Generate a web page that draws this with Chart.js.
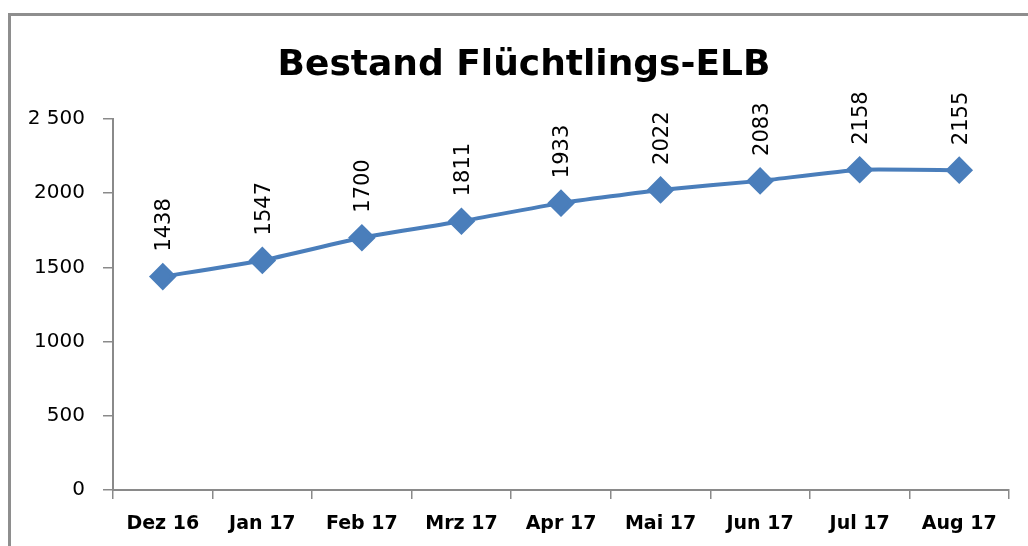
<!DOCTYPE html>
<html>
<head>
<meta charset="utf-8">
<script src="https://cdn.jsdelivr.net/npm/chart.js@4"></script>
<style>
  html, body { margin: 0; padding: 0; background: #fff; overflow: hidden; }
  #wrap { position: relative; width: 1028px; height: 546px; }
  #frame {
    position: absolute; left: 8px; top: 13px; width: 1100px; height: 600px;
    border-top: 3px solid #8e8e8e; border-left: 3px solid #8e8e8e;
  }
  #chart { position: absolute; left: 0; top: 0; }
</style>
</head>
<body>
<div id="wrap">
  <div id="frame"></div>
  <canvas id="chart" width="1028" height="546"></canvas>
</div>
<script>
// Daten
const chartTitle = 'Bestand Flüchtlings-ELB';
const months = ['Dez 16', 'Jan 17', 'Feb 17', 'Mrz 17', 'Apr 17', 'Mai 17', 'Jun 17', 'Jul 17', 'Aug 17'];
const bestand = [1438, 1547, 1700, 1811, 1933, 2022, 2083, 2158, 2155];
const yTicks = [0, 500, 1000, 1500, 2000, 2500];
const yTickLabels = ['0', '500', '1000', '1500', '2000', '2 500'];

const lineColor = '#4a7ebb';
const axisColor = '#8a8a8a';

// Titel (leicht nach rechts versetzt wie im Original)
const titlePlugin = {
    id: 'titlePlugin',
    afterDraw(chart) {
        const ctx = chart.ctx;
        ctx.save();
        ctx.fillStyle = '#000';
        ctx.font = 'bold 36px "DejaVu Sans"';
        ctx.textAlign = 'center';
        ctx.textBaseline = 'alphabetic';
        ctx.fillText(chartTitle, 524, 75);
        ctx.restore();
    }
};

// Werte über den Punkten, um 90° gedreht
const valueLabels = {
    id: 'valueLabels',
    afterDatasetsDraw(chart) {
        const ctx = chart.ctx;
        const meta = chart.getDatasetMeta(0);
        ctx.save();
        ctx.fillStyle = '#000';
        ctx.font = '21px "DejaVu Sans"';
        ctx.textAlign = 'left';
        ctx.textBaseline = 'middle';
        meta.data.forEach((pt, i) => {
            ctx.save();
            ctx.translate(pt.x + 2, pt.y - 25);
            ctx.rotate(-Math.PI / 2);
            ctx.fillText(String(bestand[i]), 0, 0);
            ctx.restore();
        });
        ctx.restore();
    }
};

new Chart(document.getElementById('chart'), {
    type: 'line',
    data: {
        labels: months,
        datasets: [{
            data: bestand,
            borderColor: lineColor,
            backgroundColor: lineColor,
            borderWidth: 4,
            pointStyle: 'rectRot',
            pointRadius: 11,
            pointHoverRadius: 11,
            tension: 0.15,
            fill: false
        }]
    },
    options: {
        responsive: false,
        animation: false,
        layout: { padding: { left: 10, right: 19, top: 119, bottom: 0 } },
        plugins: {
            legend: { display: false },
            tooltip: { enabled: false },
            title: { display: false }
        },
        scales: {
            x: {
                offset: true,
                afterFit: (scale) => { scale.height = 56; },
                grid: {
                    offset: true,
                    drawOnChartArea: false,
                    drawTicks: true,
                    tickLength: 9,
                    color: axisColor,
                    lineWidth: 1.5
                },
                border: { color: axisColor, width: 2 },
                ticks: {
                    color: '#000',
                    padding: 14,
                    maxRotation: 0,
                    font: { family: '"DejaVu Sans"', size: 19, weight: 'bold' }
                }
            },
            y: {
                min: 0,
                max: 2500,
                afterFit: (scale) => { scale.width = 103; },
                afterBuildTicks: (scale) => { scale.ticks = yTicks.map(v => ({ value: v })); },
                grid: {
                    drawOnChartArea: false,
                    drawTicks: true,
                    tickLength: 10,
                    color: axisColor,
                    lineWidth: 1.5
                },
                border: { color: axisColor, width: 2 },
                ticks: {
                    color: '#000',
                    padding: 18,
                    font: { family: '"DejaVu Sans"', size: 20 },
                    callback: (value) => yTickLabels[yTicks.indexOf(value)]
                }
            }
        }
    },
    plugins: [valueLabels, titlePlugin]
});
</script>
</body>
</html>
